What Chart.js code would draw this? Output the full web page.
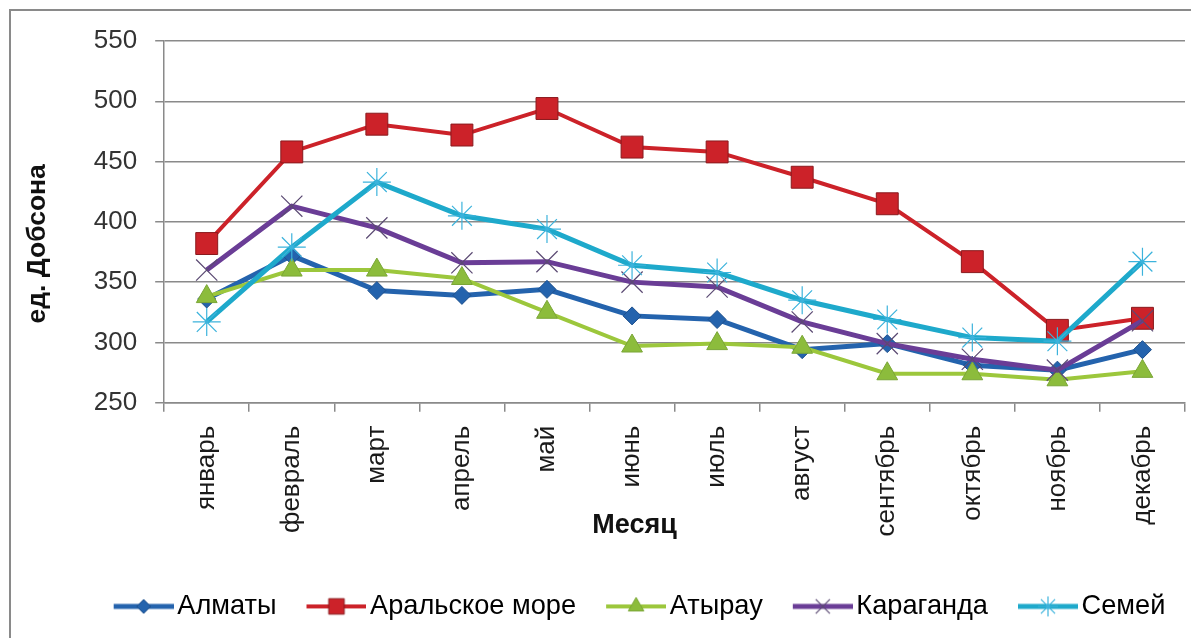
<!DOCTYPE html>
<html><head><meta charset="utf-8">
<script src="https://cdn.jsdelivr.net/npm/chart.js@4.4.0/dist/chart.umd.min.js"></script>
<style>
html,body{margin:0;padding:0;background:#fff;overflow:hidden;width:1191px;height:638px;}
#frame{position:absolute;left:9px;top:9px;width:1220px;height:660px;border:2px solid #8a8a8a;box-sizing:border-box;}
#wrap{position:absolute;left:0;top:0;width:1191px;height:638px;}
</style></head><body>
<div id="frame"></div>
<div id="wrap"><canvas id="c"></canvas></div>
<script>
const months = ['январь','февраль','март','апрель','май','июнь','июль','август','сентябрь','октябрь','ноябрь','декабрь'];
const almaty    = [336, 372, 343, 339, 344, 322, 319, 294, 299, 281, 277, 294];
const aral      = [382, 458, 481, 472, 494, 462, 458, 437, 415, 367, 310, 320];
const atyrau    = [338, 360, 360, 353, 325, 297, 299, 296, 274, 274, 269, 276];
const karaganda = [360, 413, 395, 366, 367, 350, 346, 317, 299, 286, 277, 318];
const semey     = [317, 379, 433, 405, 394, 364, 358, 335, 319, 304, 301, 367];
const yMin = 250, yMax = 550, yStep = 50;
const seriesNames = ['Алматы','Аральское море','Атырау','Караганда','Семей'];

Chart.defaults.font.family = "'Liberation Sans', Arial, sans-serif";
Chart.defaults.font.size = 26;
Chart.defaults.color = '#1a1a1a';

const styles = [
  {color:'#2463ad', width:5, point:'rectRot', r:9, fill:'#2463ad', border:'#1c4f8c', bw:1, lr:7},
  {color:'#cc2229', width:4, point:'rect', r:15.5, fill:'#cc2229', border:'#8a1a1e', bw:1, lr:11},
  {color:'#9cc73c', width:4, point:'triangle', r:12, fill:'#8cbc3c', border:'#7aa636', bw:1, lr:9},
  {color:'#6a3d96', width:5, point:'crossRot', r:15, fill:'#6a3d96', border:'#5b4a73', bw:1.2, lr:10},
  {color:'#1ea9cb', width:5, point:'star', r:14, fill:'#1ea9cb', border:'#3cb3dc', bw:1.2, lr:10}
];
const values = [almaty, aral, atyrau, karaganda, semey];

function legendIcon(s){
  const cv = document.createElement('canvas');
  cv.width = 70; cv.height = 28;
  const ctx = cv.getContext('2d');
  ctx.strokeStyle = s.color; ctx.lineWidth = s.width; ctx.lineCap='butt';
  ctx.beginPath(); ctx.moveTo(10,14); ctx.lineTo(70,14); ctx.stroke();
  ctx.fillStyle = s.fill; ctx.strokeStyle = s.border; ctx.lineWidth = s.bw;
  Chart.helpers.drawPoint(ctx, {pointStyle:s.point, radius:s.lr, rotation:0, borderWidth:s.bw}, 40, 14);
  return cv;
}
const icons = styles.map(legendIcon);

const datasets = values.map((v,i)=>({
  label: seriesNames[i],
  data: v,
  borderColor: styles[i].color,
  backgroundColor: styles[i].fill,
  borderWidth: styles[i].width,
  pointStyle: styles[i].point,
  pointRadius: styles[i].r,
  pointBackgroundColor: styles[i].fill,
  pointBorderColor: styles[i].border,
  pointBorderWidth: styles[i].bw,
  tension: 0,
  order: 5 - i
}));

// small offsets to match the original layout of the legend and axis titles
const layoutTweaks = {
  id:'layoutTweaks',
  afterLayout(chart){
    const d = 42;
    chart.legend.left += d; chart.legend.right += d;
    const sx = chart.scales.x, sy = chart.scales.y;
    if (!sx._tw) {
      sx._tw = true;
      const o = sx.drawTitle;
      sx.drawTitle = function(){ const l = this.left; this.left -= 80; o.apply(this, arguments); this.left = l; };
    }
    if (!sy._tw) {
      sy._tw = true;
      const o = sy.drawTitle;
      sy.drawTitle = function(){ const b = this.bottom; this.bottom += 44; o.apply(this, arguments); this.bottom = b; };
    }
  }
};

new Chart(document.getElementById('c'), {
  type:'line',
  data:{labels: months, datasets},
  plugins:[layoutTweaks],
  options:{
    responsive:true, maintainAspectRatio:false, animation:false,
    layout:{autoPadding:false, padding:{left:10, right:6, top:41, bottom:8}},
    plugins:{
      tooltip:{enabled:false},
      legend:{
        position:'bottom',
        labels:{
          usePointStyle:true, pointStyleWidth:50, padding:30, color:'#111',
          font:{size:27.2},
          generateLabels(chart){
            return chart.data.datasets.map((ds,i)=>({
              text: ds.label, pointStyle: icons[i], datasetIndex:i,
              fillStyle: ds.borderColor, strokeStyle: ds.borderColor, lineWidth:0, hidden:false
            }));
          }
        }
      }
    },
    scales:{
      x:{
        offset:true,
        afterFit(s){ s.paddingLeft = 0; s.paddingRight = 0; },
        grid:{offset:true, drawOnChartArea:false, drawTicks:true, tickLength:9, color:'#8a8a8a', lineWidth:1.5},
        border:{color:'#8a8a8a', width:1.5},
        ticks:{autoSkip:false, maxRotation:90, minRotation:90, padding:14, color:'#1a1a1a', font:{size:26}},
        title:{display:true, text:'Месяц', font:{size:27, weight:'bold'}, color:'#111', padding:{top:-41, bottom:21}}
      },
      y:{
        min:yMin, max:yMax,
        grid:{color:'#8a8a8a', lineWidth:1.5, tickLength:9},
        border:{color:'#8a8a8a', width:1.5},
        ticks:{stepSize:yStep, padding:18, color:'#333', font:{size:26}},
        title:{display:true, text:'ед. Добсона', font:{size:26.5, weight:'bold'}, color:'#111', padding:{top:12, bottom:22}}
      }
    }
  }
});
</script>
</body></html>
